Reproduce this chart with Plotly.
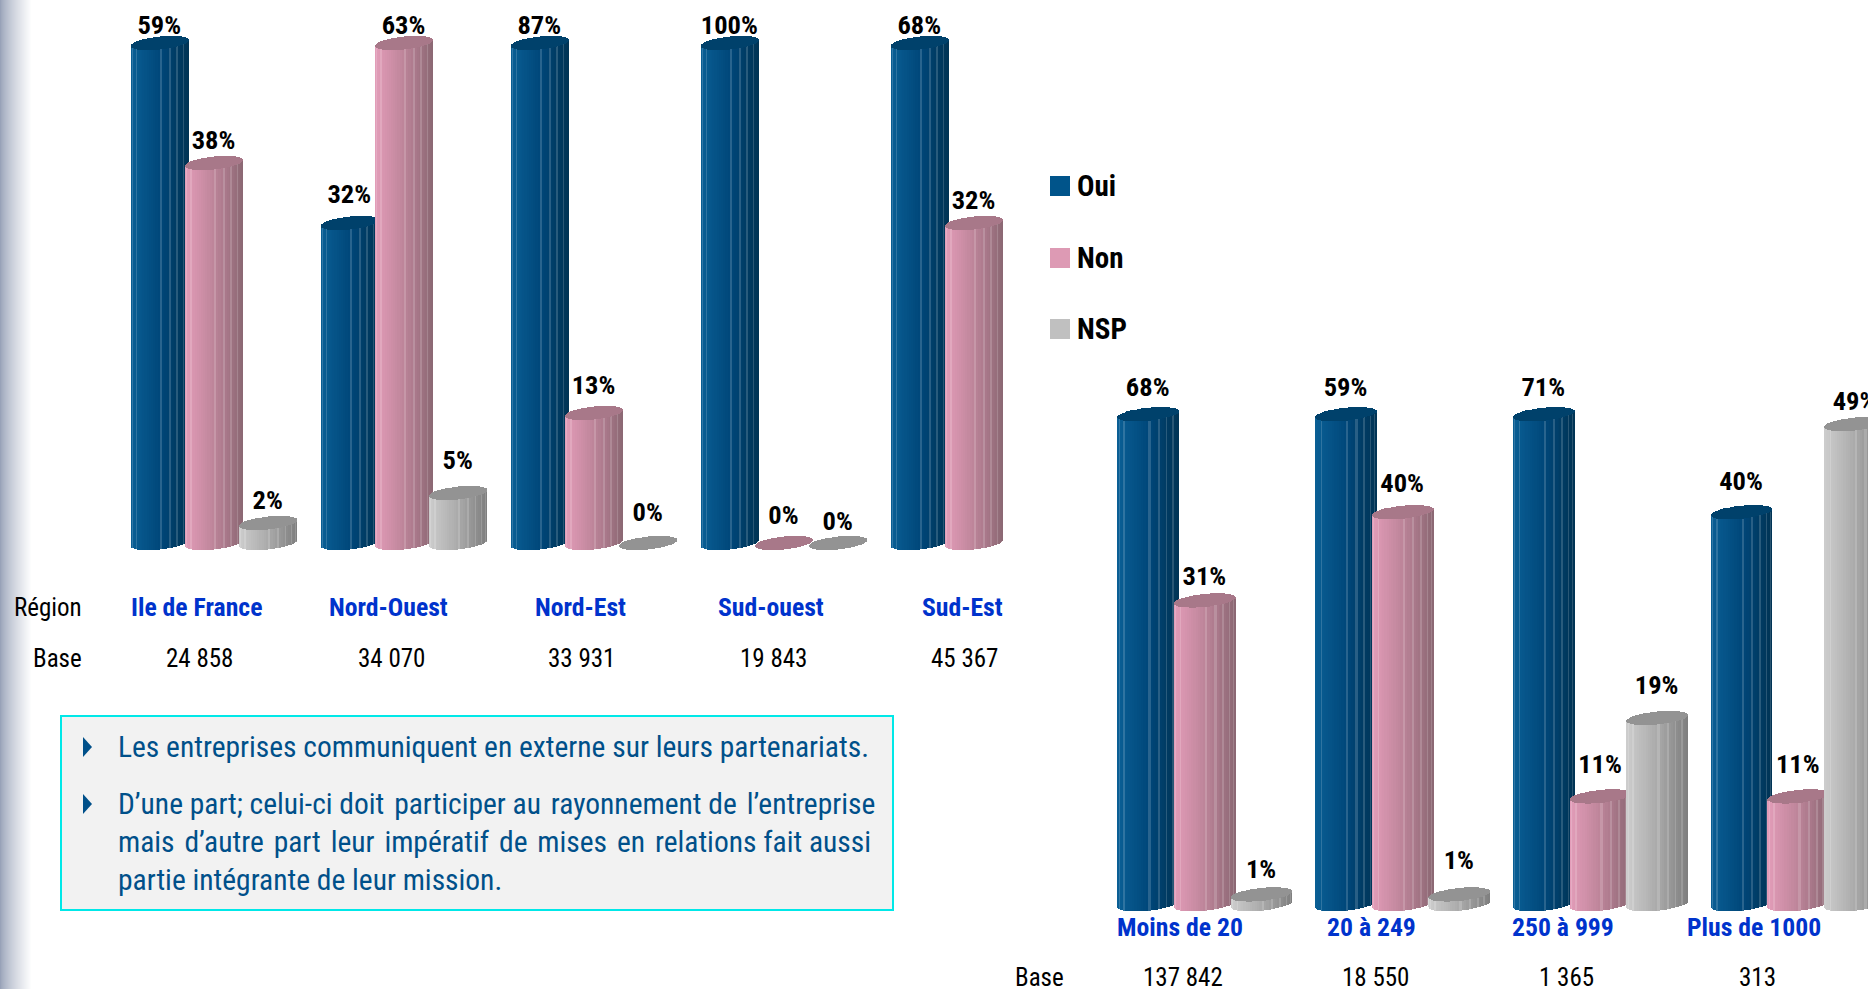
import math
import plotly.graph_objects as go

# ---------- data ----------
regions = ["Ile de France", "Nord-Ouest", "Nord-Est", "Sud-ouest", "Sud-Est"]
region_base = ["24 858", "34 070", "33 931", "19 843", "45 367"]
region_oui = [59, 32, 87, 100, 68]
region_non = [38, 63, 13, 0, 32]
region_nsp = [2, 5, 0, 0, None]

sizes = ["Moins de 20", "20 à 249", "250 à 999", "Plus de 1000"]
size_base = ["137 842", "18 550", "1 365", "313"]
size_oui = [68, 59, 71, 40]
size_non = [31, 40, 11, 11]
size_nsp = [1, 1, 19, 49]

series_names = ["Oui", "Non", "NSP"]

# ---------- style and layout ----------
W, H = 1868, 989
AXIS_TOP = 50  # the vertical axis of both charts stops at 50 %
FONT = "Roboto Condensed"
RAMPS = [("#0a5f95", "#00477a", "#003455"),
         ("#e39db9", "#bd8499", "#8c6874"),
         ("#cdcdcd", "#aaaaaa", "#7f7f7f")]
CAPS = ["#00416b", "#a87889", "#939393"]
SWATCHES = ["#00548a", "#dd9ab4", "#c0c0c0"]
BLUE_TXT = "#0033cc"
BOX_TXT = "#00508a"
N_STRIPS = 40
RULED = {4, 8, 20, 24, 28, 32, 36}

region_nudge = [[16, 27, 16, 16, 16], [20.5, 16, 26, 26, 21], [20.5, 30.5, 29, 19.5, 0]]
size_nudge = [[25, 25, 25, 29], [22, 27, 29.5, 29.5], [22.5, 31.5, 30, 20]]


def hex_rgb(c):
    return [int(c[i:i + 2], 16) for i in (1, 3, 5)]


def mix(a, b, t):
    return [a[i] + (b[i] - a[i]) * t for i in range(3)]


def css(c):
    return "rgb(%d,%d,%d)" % tuple(round(v) for v in c)


def ramp_colour(ramp, t, light):
    a, b, c = (hex_rgb(v) for v in ramp)
    col = mix(a, b, t / 0.5) if t < 0.5 else mix(b, c, (t - 0.5) / 0.5)
    return css(mix(col, [255, 255, 255], light))


def strips():
    out = []
    for i in range(N_STRIPS):
        a0 = math.pi - math.pi * i / N_STRIPS
        a1 = math.pi - math.pi * (i + 1) / N_STRIPS
        u0, u1 = math.cos(a0), math.cos(a1)
        mid = (a0 + a1) / 2
        out.append((i, (u0 + u1) / 2, u1 - u0, math.sin(mid)))
    return out


def add_chart(fig, values, nudges, ax, px_group, scale, radius, step):
    xn = "x" if ax == 1 else "x2"
    yn = "y" if ax == 1 else "y2"
    semi = 6.5 / scale
    tilt = 3.0 / scale
    r = radius / px_group
    off = step / px_group
    lx, ly, lt = [], [], []
    for s, vals in enumerate(values):
        bx, by, bb, bw, bc = [], [], [], [], []
        cx, cy, cb, cw, cc = [], [], [], [], []
        for g, v in enumerate(vals):
            if v is None:
                continue
            top = min(v, AXIS_TOP)
            centre = g + (s - 1) * off
            for i, u, du, sn in strips():
                light = 0.16 if i in RULED else (0.2 if i == 0 else 0)
                bx.append(centre + r * u)
                by.append(top)
                bb.append((tilt * u - semi * sn))
                bw.append(r * du)
                bc.append(ramp_colour(RAMPS[s], (u + 1) / 2, light))
                cx.append(centre + r * u)
                cy.append(2 * semi * sn)
                cb.append(top + tilt * u - semi * sn)
                cw.append(r * du)
                cc.append(CAPS[s])
            lx.append(centre)
            ly.append(top + nudges[s][g] / scale)
            lt.append("<b>%d%%</b>" % v)
        fig.add_trace(go.Bar(x=bx, y=by, base=bb, width=bw, name=series_names[s], xaxis=xn, yaxis=yn,
                             marker=dict(color=bc, line=dict(width=0)), showlegend=False, hoverinfo="skip"))
        fig.add_trace(go.Bar(x=cx, y=cy, base=cb, width=cw, name=series_names[s] + " (top)", xaxis=xn, yaxis=yn,
                             marker=dict(color=cc, line=dict(width=0)), showlegend=False, hoverinfo="skip"))
    fig.add_trace(go.Scatter(x=lx, y=ly, text=lt, mode="text", textposition="middle center", xaxis=xn, yaxis=yn,
                             cliponaxis=False, showlegend=False, hoverinfo="skip",
                             textfont=dict(family=FONT, size=26.5, color="#000000")))


fig = go.Figure()
add_chart(fig, [region_oui, region_non, region_nsp], region_nudge, 1, 190.0, 10.0, 28.7, 54.2)
add_chart(fig, [size_oui, size_non, size_nsp], size_nudge, 2, 197.8, 9.8, 30.4, 56.7)

shapes = []
ann = []


def T(x, y, text, size, color="#000000", bold=False, anchor="center"):
    ann.append(dict(xref="paper", yref="paper", x=x / W, y=1 - y / H, text="<b>%s</b>" % text if bold else text,
                    showarrow=False, xanchor=anchor, yanchor="middle", align="left",
                    font=dict(family=FONT, size=size, color=color)))


def R(x0, y0, x1, y1, fill, line=None, lw=0):
    shapes.append(dict(type="rect", xref="paper", yref="paper", x0=x0 / W, x1=x1 / W, y0=1 - y0 / H, y1=1 - y1 / H,
                       fillcolor=fill, line=dict(color=line or fill, width=lw), layer="below"))


# fading band along the left edge
for i in range(32):
    t = i / 31
    R(i, 0, i + 1.2, H, css(mix(hex_rgb("#98a2b8"), [255, 255, 255], t ** 0.75)))

# text box
R(61, 716, 893, 910, "#f2f2f2", "#00e8e8", 2)
for py in (747, 804):
    shapes.append(dict(type="path", xref="paper", yref="paper", line=dict(width=0), fillcolor="#00508a",
                       path="M %f %f L %f %f L %f %f Z" % (83 / W, 1 - (py - 10) / H, 92 / W, 1 - py / H,
                                                           83 / W, 1 - (py + 10) / H)))
GAP = " \u200a"
TX = 115.5
T(TX, 747, "Les entreprises communiquent en externe sur leurs partenariats.", 29.5, BOX_TXT, anchor="left")
T(TX, 804, "D’une part; celui-ci doit participer au rayonnement de l’entreprise".replace("au ", "au" + GAP).replace("doit ", "doit" + GAP).replace("de ", "de" + GAP), 29.5, BOX_TXT, anchor="left")
T(TX, 842, "mais d’autre part leur impératif de mises en relations fait aussi".replace(" ", GAP, 8), 29.5, BOX_TXT, anchor="left")
T(TX, 880, "partie intégrante de leur mission.", 29.5, BOX_TXT, anchor="left")

# row labels
T(83.5, 607, "Région", 25, anchor="right")
T(83.5, 658, "Base", 25, anchor="right")
T(1066, 977, "Base", 25, anchor="right")
for name, b, xc, xb in zip(regions, region_base, [196, 388, 580, 771, 962.5], [199, 391, 581.5, 773, 964]):
    T(xc, 607, name, 25.7, BLUE_TXT, bold=True)
    T(xb, 658, b, 25)
for name, b, xc, xb in zip(sizes, size_base, [1180, 1371.7, 1562.8, 1754], [1183, 1375, 1566, 1757]):
    T(xc, 927, name, 25.7, BLUE_TXT, bold=True)
    T(xb, 977, b, 25)

# legend
for name, col, py in zip(series_names, SWATCHES, [186, 258, 329]):
    R(1050, py - 10, 1070, py + 10, col)
    T(1075, py, name, 29, bold=True, anchor="left")

axis = dict(visible=False, fixedrange=True)
fig.update_layout(
    width=W, height=H, autosize=False, margin=dict(l=0, r=0, t=0, b=0, pad=0),
    paper_bgcolor="#ffffff", plot_bgcolor="rgba(0,0,0,0)", barmode="overlay", bargap=0,
    shapes=shapes, annotations=ann, showlegend=False,
    xaxis=dict(axis, range=[-0.5, 4.5], domain=[118.5 / W, 1068.5 / W]),
    yaxis=dict(axis, range=[-3, 54], domain=[1 - 573 / H, 1 - 3 / H]),
    xaxis2=dict(axis, range=[-0.5, 3.355], domain=[1105.5 / W, 1.0], anchor="y2"),
    yaxis2=dict(axis, range=[-2, 54], domain=[1 - 923.6 / H, 1 - 374.8 / H], anchor="x2"),
)

fig.write_html("out.html", config=dict(displayModeBar=False),
               post_script="document.body.style.margin='0';document.body.style.overflow='hidden';")
